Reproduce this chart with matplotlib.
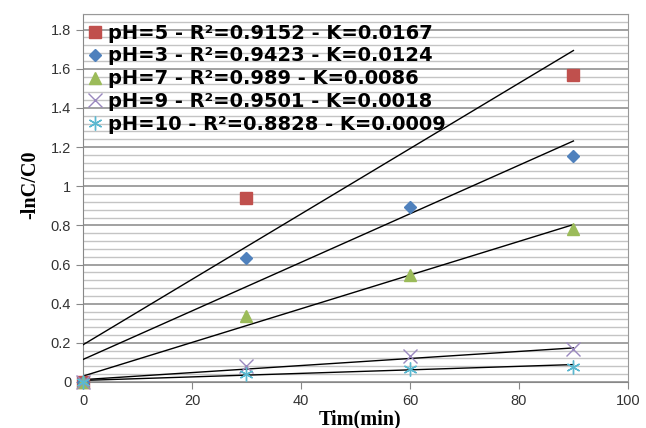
import matplotlib.pyplot as plt
from matplotlib.ticker import MultipleLocator

time = [0, 30, 60, 90]
ph5 = [0, 0.94, None, 1.57]
ph3 = [0, 0.633, 0.893, 1.153]
ph7 = [0, 0.337, 0.546, 0.78]
ph9 = [0, 0.082, 0.133, 0.168]
ph10 = [0, 0.04, 0.066, 0.075]

# trendline slopes (K from legend) and intercepts
trend_k = [0.0167, 0.0124, 0.0086, 0.0018, 0.0009]
trend_b = [0.19, 0.115, 0.03, 0.012, 0.008]

labels = [
    'pH=5 - R²=0.9152 - K=0.0167',
    'pH=3 - R²=0.9423 - K=0.0124',
    'pH=7 - R²=0.989 - K=0.0086',
    'pH=9 - R²=0.9501 - K=0.0018',
    'pH=10 - R²=0.8828 - K=0.0009',
]
colors = ['#C0504D', '#4F81BD', '#9BBB59', '#9A88BE', '#5BB8D0']
markers = ['s', 'D', '^', 'x', (6, 2, 0)]
sizes = [9, 6.5, 9, 10, 10]

fig = plt.figure(figsize=(6.46, 4.28), dpi=100)
ax = fig.add_axes([0.1285, 0.1075, 0.8435, 0.86])

series = [ph5, ph3, ph7, ph9, ph10]
for ys, k, b, lab, c, m, s in zip(series, trend_k, trend_b, labels, colors, markers, sizes):
    xs = [t for t, v in zip(time, ys) if v is not None]
    yv = [v for v in ys if v is not None]
    ax.plot([0, 90], [b, b + k * 90], color='black', lw=1.0, zorder=3)
    ax.plot(xs, yv, linestyle='none', marker=m, color=c, markersize=s,
            markeredgewidth=1.0, label=lab, clip_on=False, zorder=4)

ax.set_xlim(0, 100)
ax.set_ylim(0, 1.88)
ax.xaxis.set_major_locator(MultipleLocator(20))
ax.set_yticks([0, 0.2, 0.4, 0.6, 0.8, 1.0, 1.2, 1.4, 1.6, 1.8])
ax.set_yticklabels(['0', '0.2', '0.4', '0.6', '0.8', '1', '1.2', '1.4', '1.6', '1.8'])
ax.yaxis.set_minor_locator(MultipleLocator(0.04))
ax.grid(True, which='minor', axis='y', color='#c4c4c4', lw=1.0, zorder=0)
ax.grid(True, which='major', axis='y', color='#9a9a9a', lw=1.3, zorder=0)
ax.set_axisbelow(True)
ax.tick_params(which='minor', length=0)
ax.tick_params(which='major', direction='out', length=5, color='#888888',
               labelsize=10.5, labelcolor='#333333')
for lbl in ax.get_xticklabels() + ax.get_yticklabels():
    lbl.set_family('Liberation Sans')
for sp in ax.spines.values():
    sp.set_color('#999999')
ax.spines['left'].set_color('#888888')
ax.spines['bottom'].set_color('#888888')

ax.set_xlabel('Tim(min)', fontsize=14.5, fontweight='bold', family='Liberation Serif')
ax.set_ylabel('-lnC/C0', fontsize=14.5, fontweight='bold', family='Liberation Serif')
ax.xaxis.set_label_coords(0.508, -0.074)
ax.yaxis.set_label_coords(-0.078, 0.535)

leg = ax.legend(loc='upper left', frameon=False,
                prop={'family': 'DejaVu Sans', 'weight': 'bold', 'size': 14},
                handletextpad=0.2, handlelength=1.0, labelspacing=0.2, borderaxespad=0.0,
                bbox_to_anchor=(-0.011, 0.995))

fig.savefig('out.png', dpi=100)
